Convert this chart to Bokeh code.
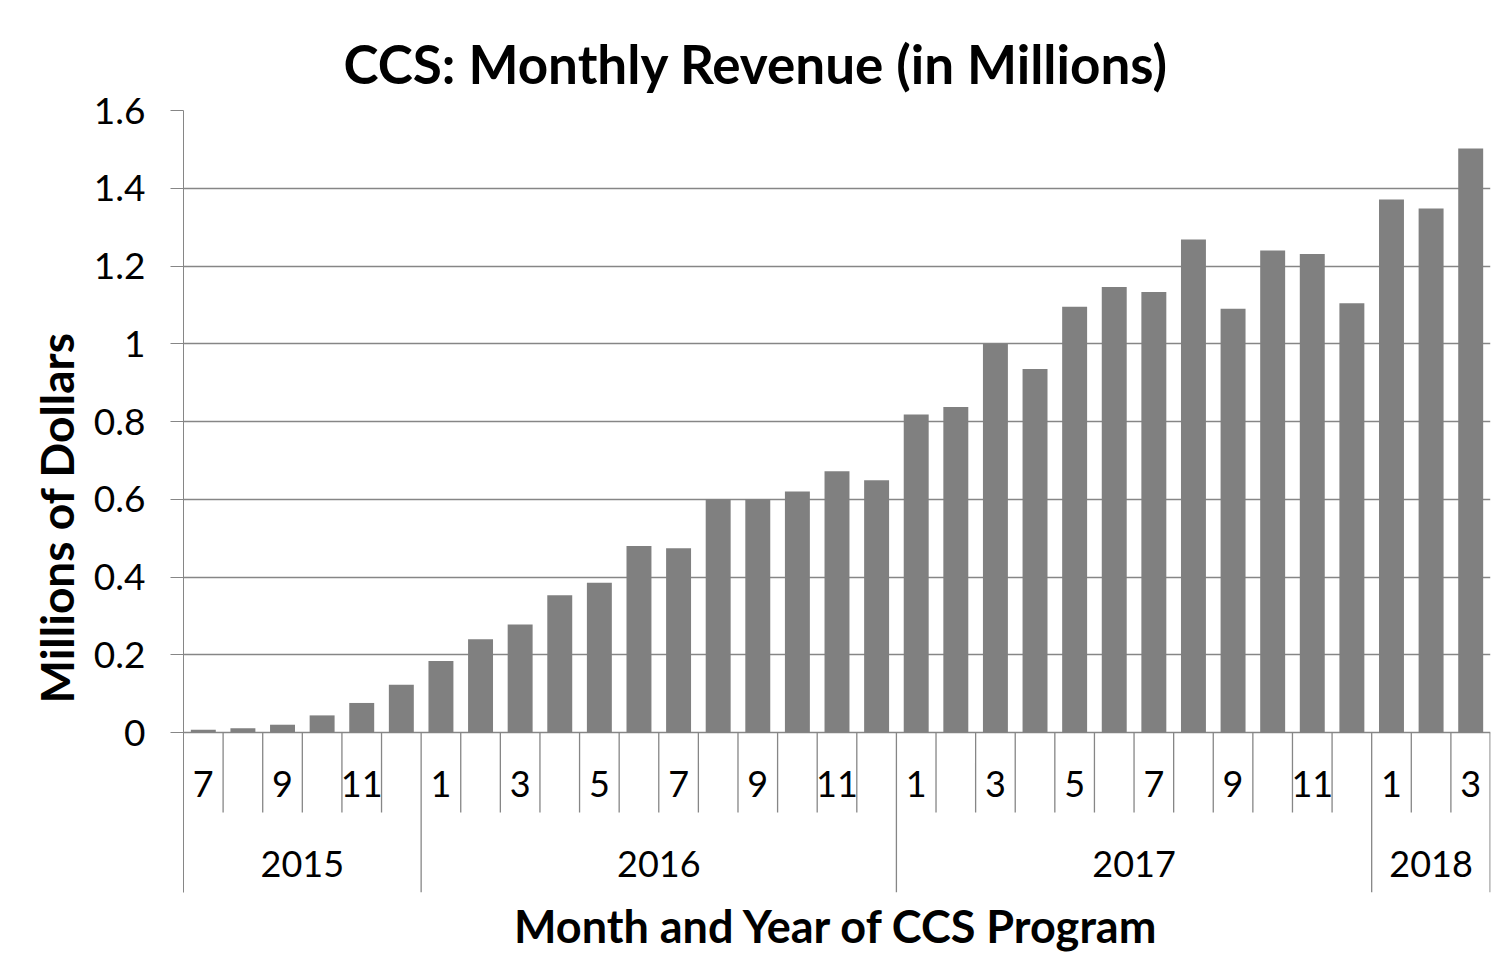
from bokeh.plotting import figure
from bokeh.models import Range1d, FixedTicker, Title
from bokeh.embed import file_html
from bokeh.resources import INLINE
from bokeh.core.properties import value

# ---------------- data ----------------
years = ["2015", "2016", "2017", "2018"]
months_per_year = [6, 12, 12, 3]
month_numbers = [7, 8, 9, 10, 11, 12,
                 1, 2, 3, 4, 5, 6, 7, 8, 9, 10, 11, 12,
                 1, 2, 3, 4, 5, 6, 7, 8, 9, 10, 11, 12,
                 1, 2, 3]
revenue = [0.007, 0.011, 0.020, 0.044, 0.076, 0.123,
           0.184, 0.240, 0.278, 0.353, 0.385, 0.480, 0.474, 0.600, 0.600, 0.620, 0.672, 0.649,
           0.818, 0.837, 1.000, 0.935, 1.095, 1.146, 1.133, 1.268, 1.090, 1.240, 1.231, 1.104,
           1.371, 1.348, 1.502]
y_ticks = [0, 0.2, 0.4, 0.6, 0.8, 1.0, 1.2, 1.4, 1.6]
y_tick_labels = ["0", "0.2", "0.4", "0.6", "0.8", "1", "1.2", "1.4", "1.6"]
title_text = "CCS: Monthly Revenue (in Millions)"
y_title = "Millions of Dollars"
x_title = "Month and Year of CCS Program"

# ---------------- layout ----------------
W, H = 1503, 956
LEFT, RIGHT, TOP, BOTTOM = 183, 13, 110, 64
FRAME_H = H - TOP - BOTTOM
ZERO_PX = 622            # pixels from frame top to value 0
YMAX = y_ticks[-1]
PPU = ZERO_PX / YMAX     # pixels per unit
YMIN = -(FRAME_H - ZERO_PX) / PPU
n = len(revenue)

def py(page_y):
    """page pixel row -> data y"""
    return (ZERO_PX + TOP - page_y) / PPU

GRID = "#868686"
FONT = "Lato"

p = figure(width=W, height=H, x_range=Range1d(0, n), y_range=Range1d(YMIN, YMAX),
           output_backend="svg", toolbar_location=None,
           x_axis_location=None,
           min_border_left=LEFT, min_border_right=RIGHT,
           min_border_top=TOP, min_border_bottom=BOTTOM)
p.outline_line_color = None
p.background_fill_color = "white"
p.border_fill_color = "white"
p.xgrid.visible = False

p.title.text = title_text
p.title.align = "left"
p.title.offset = 160
p.title.standoff = 32
p.title.text_font = FONT
p.title.text_font_size = "53px"
p.title.text_font_style = "bold"
p.title.text_color = "black"

ax = p.yaxis[0]
ax.ticker = FixedTicker(ticks=y_ticks)
ax.major_label_overrides = dict(zip(y_ticks, y_tick_labels))
ax.major_tick_in = 0
ax.major_tick_out = 13
ax.minor_tick_line_color = None
ax.axis_line_color = GRID
ax.major_tick_line_color = GRID
ax.major_label_text_font = FONT
ax.major_label_text_font_size = "37px"
ax.major_label_text_color = "black"
ax.major_label_standoff = 25
p.ygrid.ticker = FixedTicker(ticks=y_ticks)
p.ygrid.grid_line_color = GRID
p.ygrid.grid_line_width = 1.3

xs = [i + 0.5 for i in range(n)]
p.vbar(x=xs, top=revenue, width=0.63, fill_color="#808080", line_color=None)

# category separators
year_edges = [0]
for c in months_per_year:
    year_edges.append(year_edges[-1] + c)
month_edges = [k for k in range(1, n) if k not in year_edges]
p.segment(x0=month_edges, y0=[0] * len(month_edges), x1=month_edges,
          y1=[py(812)] * len(month_edges), line_color=GRID, line_width=1.3)
ye = year_edges[1:]
ye = [e - 0.01 if e == n else e for e in ye]
p.segment(x0=ye, y0=[0] * len(ye), x1=ye, y1=[YMIN] * len(ye),
          line_color=GRID, line_width=1.3)

# month labels (every other month)
lx = [xs[i] for i in range(n) if i % 2 == 0]
lt = [str(month_numbers[i]) for i in range(n) if i % 2 == 0]
p.text(x=lx, y=[py(783)] * len(lx), text=lt, text_align="center", text_baseline="middle",
       text_font=value(FONT), text_font_size="36px", text_color="black")

# year labels
yx = [(year_edges[j] + year_edges[j + 1]) / 2 for j in range(len(years))]
p.text(x=yx, y=[py(863)] * len(yx), text=years, text_align="center", text_baseline="middle",
       text_font=value(FONT), text_font_size="36px", text_color="black")

p.add_layout(Title(text=x_title, align="center", text_font=FONT, text_font_size="45px",
                   text_font_style="bold", text_color="black", standoff=8), "below")
p.add_layout(Title(text=y_title, align="left", offset=189, text_font=FONT,
                   text_font_size="46px", text_font_style="bold", text_color="black",
                   standoff=14), "left")

open("out.html", "w").write(file_html(p, INLINE))
